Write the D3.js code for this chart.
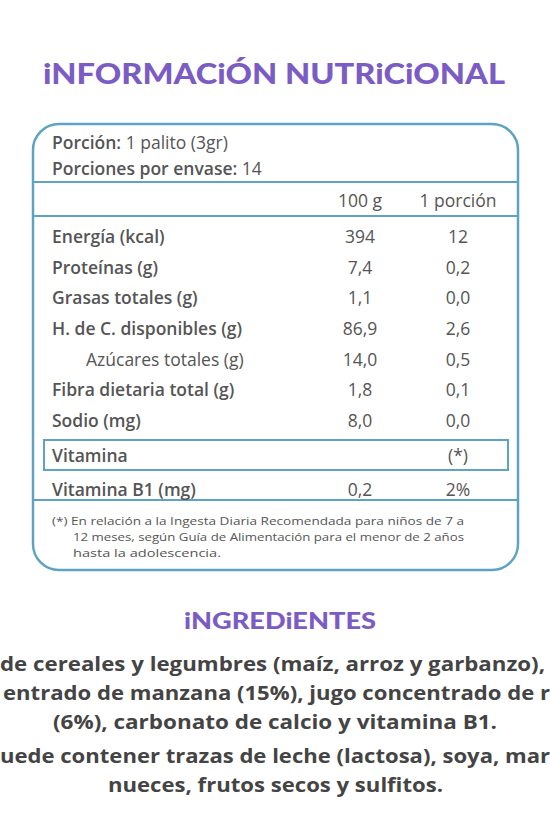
<!DOCTYPE html>
<html><head><meta charset="utf-8">
<script src="https://cdn.jsdelivr.net/npm/d3@7"></script>
<style>body{margin:0;background:#fff}svg{display:block}</style>
</head><body>
<svg id="c" width="550" height="825"></svg>
<script>
var nutrients = ["Energía (kcal)","Proteínas (g)","Grasas totales (g)","H. de C. disponibles (g)","Azúcares totales (g)","Fibra dietaria total (g)","Sodio (mg)"]
var per100 = ["394","7,4","1,1","86,9","14,0","1,8","8,0"]
var perPortion = ["12","0,2","0,0","2,6","0,5","0,1","0,0"]
var ingredientLines = ["de cereales y legumbres (maíz, arroz y garbanzo),","entrado de manzana (15%), jugo concentrado de r","(6%), carbonato de calcio y vitamina B1."]
var allergenLines = ["uede contener trazas de leche (lactosa), soya, mar","nueces, frutos secos y sulfitos."]
var footnote = ["(*) En relación a la Ingesta Diaria Recomendada para niños de 7 a","12 meses, según Guía de Alimentación para el menor de 2 años","hasta la adolescencia."]

var svg = d3.select("#c")
var blue = "#5fa3c2", grey = "#555", purple = "#7b5cc4"
var font = "'Open Sans', sans-serif"

svg.append("text").attr("x",43).attr("y",84)
  .attr("fill",purple).attr("font-family","Lato, sans-serif").attr("font-weight",900)
  .attr("font-size",29).attr("textLength",462).attr("lengthAdjust","spacingAndGlyphs")
  .text("iNFORMACiÓN NUTRiCiONAL")

svg.append("rect").attr("x",33).attr("y",124).attr("width",485).attr("height",446)
  .attr("rx",26).attr("fill","none").attr("stroke",blue).attr("stroke-width",2.5)
;[182,216,500].forEach(function(y){
  svg.append("line").attr("x1",33).attr("x2",518).attr("y1",y).attr("y2",y).attr("stroke",blue).attr("stroke-width",2)
})

function t(x,y,s,opt){
  opt=opt||{}
  var e = svg.append("text").attr("x",x).attr("y",y).attr("fill",opt.fill||grey)
    .attr("font-family",font).attr("font-size",opt.size||17.5).attr("font-weight",opt.weight||400)
    .attr("text-anchor",opt.anchor||"start").text(s)
  if(opt.len) e.attr("textLength",opt.len).attr("lengthAdjust","spacingAndGlyphs")
  return e
}
var p = t(52,149,"")
p.append("tspan").attr("font-weight",600).text("Porción:")
p.append("tspan").text(" 1 palito (3gr)")
var q = t(52,175,"")
q.append("tspan").attr("font-weight",600).text("Porciones por envase:")
q.append("tspan").text(" 14")
t(360,207,"100 g",{anchor:"middle"})
t(458,207,"1 porción",{anchor:"middle"})

var y = d3.scalePoint().domain(nutrients).range([243,427])
nutrients.forEach(function(n,i){
  var sub = i==4
  t(sub?86:52, y(n), n, {weight: sub?400:600})
  t(360, y(n), per100[i], {anchor:"middle"})
  t(458, y(n), perPortion[i], {anchor:"middle"})
})
svg.append("rect").attr("x",44).attr("y",440).attr("width",464).attr("height",30)
  .attr("fill","none").attr("stroke",blue).attr("stroke-width",2)
t(52,462,"Vitamina",{weight:600})
t(458,462,"(*)",{anchor:"middle"})
t(52,496,"Vitamina B1 (mg)",{weight:600})
t(360,496,"0,2",{anchor:"middle"})
t(458,496,"2%",{anchor:"middle"})

footnote.forEach(function(s,i){ t(i==0?52:73, 525+i*16, s, {size:11.5, len:[412,391,148][i]}) })

svg.append("text").attr("x",184).attr("y",629)
  .attr("fill",purple).attr("font-family","Lato, sans-serif").attr("font-weight",900)
  .attr("font-size",22).attr("textLength",192).attr("lengthAdjust","spacingAndGlyphs").text("iNGREDiENTES")

var ingX = [[0,545],[3,547],[53,444]], algX = [[0,550],[108,335]]
ingredientLines.forEach(function(s,i){ t(ingX[i][0],671+i*29,s,{weight:700,size:19.5,fill:"#444",len:ingX[i][1]}) })
allergenLines.forEach(function(s,i){ t(algX[i][0],763+i*29,s,{weight:700,size:19.5,fill:"#444",len:algX[i][1]}) })
</script>
</body></html>
